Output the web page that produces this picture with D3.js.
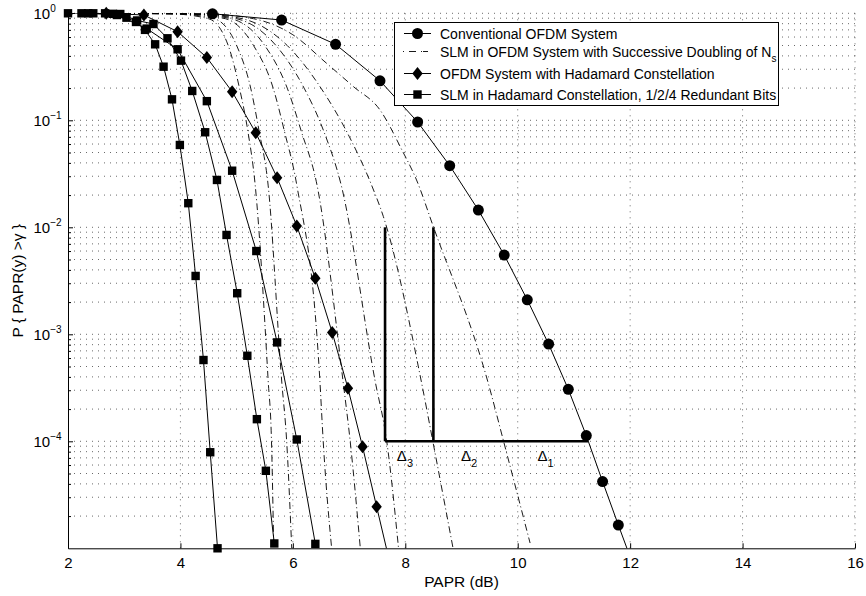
<!DOCTYPE html>
<html>
<head>
<meta charset="utf-8">
<script src="https://cdn.jsdelivr.net/npm/d3@7"></script>
<style>
  body { margin: 0; background: #fff; }
  svg { display: block; font-family: "Liberation Sans", Arial, Helvetica, sans-serif; }
</style>
</head>
<body>
<div id="chart"></div>
<script>
// ---- data (PAPR in dB, probability) ----
var convPapr = [4.57, 5.80, 6.76, 7.55, 8.22, 8.79, 9.30, 9.76, 10.17, 10.55, 10.90, 11.22, 11.51, 11.79, 12.07];
var convProb = [0.99, 0.865, 0.513, 0.234, 0.0964, 0.0377, 0.0145, 5.5e-3, 2.1e-3, 8.1e-4, 3.06e-4, 1.13e-4, 4.2e-5, 1.65e-5, 6.6e-6];

var hadPapr = [2.68, 3.35, 3.95, 4.47, 4.92, 5.34, 5.72, 6.07, 6.40, 6.70, 6.98, 7.24, 7.49, 7.74];
var hadProb = [1, 0.964, 0.673, 0.386, 0.185, 0.0766, 0.0291, 0.0103, 3.34e-3, 1.04e-3, 3.13e-4, 8.9e-5, 2.45e-5, 6.8e-6];

// SLM in Hadamard constellation, three redundancy levels
var slmHadAPapr = [2.00, 2.45, 2.80, 3.04, 3.21, 3.37, 3.55, 3.70, 3.85, 3.99, 4.14, 4.27, 4.41, 4.53, 4.66];
var slmHadAProb = [1, 1, 0.989, 0.91, 0.83, 0.70, 0.513, 0.317, 0.157, 0.0588, 0.0168, 3.51e-3, 5.75e-4, 7.9e-5, 1.0e-5];
var slmHadBPapr = [2.24, 2.66, 2.93, 3.23, 3.52, 3.77, 4.01, 4.21, 4.44, 4.65, 4.82, 5.01, 5.19, 5.36, 5.52, 5.67];
var slmHadBProb = [1, 1, 0.985, 0.857, 0.794, 0.584, 0.361, 0.188, 0.0773, 0.0277, 8.48e-3, 2.42e-3, 6.3e-4, 1.61e-4, 5.3e-5, 1.11e-5];
var slmHadCPapr = [2.36, 2.87, 3.40, 3.95, 4.47, 4.92, 5.35, 5.72, 6.07, 6.40];
var slmHadCProb = [1, 0.964, 0.72, 0.461, 0.151, 0.0338, 6.0e-3, 8.4e-4, 1.04e-4, 1.1e-5];

// SLM in conventional OFDM, successive doubling of Ns (right to left)
var slmPapr = [
  [2, 4.4, 5.3, 6.0, 6.60, 7.08, 7.55, 7.94, 8.20, 8.50, 9.46, 9.78, 10.22],
  [2, 4.3, 5.1, 5.9, 6.5, 7.0, 7.40, 7.61, 8.28, 8.49, 8.85],
  [2, 4.2, 5.0, 5.7, 6.2, 6.55, 6.86, 7.46, 7.67, 7.88],
  [2, 4.1, 4.9, 5.5, 5.9, 6.15, 6.43, 6.89, 7.02, 7.20],
  [2, 4.0, 4.8, 5.3, 5.65, 5.85, 6.07, 6.48, 6.54, 6.69],
  [2, 3.9, 4.6, 5.0, 5.25, 5.4, 5.56, 5.80, 5.89, 5.98],
  [2, 3.8, 4.5, 4.85, 5.05, 5.2, 5.33, 5.56, 5.62, 5.66]
];
var slmProb = [
  [1, 0.99, 0.89, 0.63, 0.341, 0.206, 0.125, 0.0528, 0.0277, 0.0101, 3.74e-4, 8.65e-5, 1.12e-5],
  [1, 0.99, 0.89, 0.5, 0.2, 0.071, 0.0248, 0.0126, 3.74e-4, 1.0e-4, 1.0e-5],
  [1, 0.99, 0.89, 0.5, 0.2, 0.079, 0.0248, 3.74e-4, 1.0e-4, 1.0e-5],
  [1, 0.99, 0.89, 0.5, 0.2, 0.079, 0.0248, 3.74e-4, 1.0e-4, 1.0e-5],
  [1, 0.99, 0.89, 0.5, 0.2, 0.079, 0.0248, 3.74e-4, 1.0e-4, 1.0e-5],
  [1, 0.99, 0.89, 0.5, 0.2, 0.079, 0.0248, 3.74e-4, 1.0e-4, 1.0e-5],
  [1, 0.99, 0.89, 0.5, 0.2, 0.079, 0.0248, 3.74e-4, 1.0e-4, 1.0e-5]
];

var xTicks = [2, 4, 6, 8, 10, 12, 14, 16];
var yExponents = [0, -1, -2, -3, -4];

var legendLabels = [
  "Conventional OFDM System",
  "SLM in OFDM System with Successive Doubling of N",
  "OFDM System with Hadamard Constellation",
  "SLM in Hadamard Constellation, 1/2/4 Redundant Bits"
];

// gain markers: verticals at two SLM curves, horizontal at 1e-4 out to the conventional curve
var gainX = [7.64, 8.5], gainTop = 1e-2, gainLevel = 1e-4, gainEnd = 11.25;
var deltaLabels = [{ x: 7.85, sub: "3" }, { x: 8.99, sub: "2" }, { x: 10.35, sub: "1" }];

// ---- drawing ----
var width = 866, height = 596,
    plotLeft = 68, plotRight = 855, plotTop = 13.3, plotBottom = 548.3;

var svg = d3.select("#chart").append("svg")
  .attr("width", width)
  .attr("height", height);

var x = d3.scaleLinear().domain([2, 16]).range([plotLeft, plotRight]);
var y = d3.scaleLog().domain([1e-5, 1]).range([plotBottom, plotTop]);

svg.append("clipPath").attr("id", "plot-clip")
  .append("rect")
  .attr("x", plotLeft).attr("y", plotTop)
  .attr("width", plotRight - plotLeft).attr("height", plotBottom - plotTop);

// grid
var minorVals = [];
for (var e = -5; e < 0; e++) {
  for (var m = 1; m < 10; m++) minorVals.push(m * Math.pow(10, e));
}
minorVals.push(1);

var grid = svg.append("g").attr("class", "grid")
  .style("stroke", "#444")
  .style("stroke-width", 0.8)
  .style("stroke-dasharray", "1,5");

grid.selectAll(".hgrid")
  .data(minorVals.slice(1))
  .enter().append("line")
  .attr("x1", plotLeft).attr("x2", plotRight)
  .attr("y1", (d) => y(d)).attr("y2", (d) => y(d));

grid.selectAll(".vgrid")
  .data(xTicks.slice(1))
  .enter().append("line")
  .attr("x1", (d) => x(d)).attr("x2", (d) => x(d))
  .attr("y1", plotTop).attr("y2", plotBottom);

// axes
var xAxis = d3.axisBottom(x).tickValues(xTicks).tickSizeInner(-5).tickSizeOuter(0).tickPadding(9);
var gx = svg.append("g")
  .attr("transform", `translate(0,${plotBottom})`)
  .call(xAxis);
gx.selectAll("text").style("font-size", "15px").attr("fill", "#000");

var yAxis = d3.axisLeft(y).tickValues(yExponents.map((d) => Math.pow(10, d)))
  .tickSizeInner(-5).tickSizeOuter(0).tickFormat("");
svg.append("g")
  .attr("transform", `translate(${plotLeft},0)`)
  .call(yAxis);

var yMinor = d3.axisLeft(y).tickValues(minorVals.filter((d) => Math.abs(Math.log10(d) % 1) > 1e-6))
  .tickSizeInner(-3).tickSizeOuter(0).tickFormat("");
svg.append("g")
  .attr("transform", `translate(${plotLeft},0)`)
  .call(yMinor)
  .select(".domain").remove();

svg.selectAll(".domain, .tick line").attr("stroke", "#000");

var yLabels = svg.append("g").style("font-size", "15px");
yExponents.forEach((ex) => {
  var t = yLabels.append("text")
    .attr("x", 33.5)
    .attr("y", y(Math.pow(10, ex)) + 5.5);
  t.append("tspan").text("10");
  t.append("tspan").attr("dy", -7).style("font-size", "10px")
    .text(ex === 0 ? "0" : "\u2212" + Math.abs(ex));
});

svg.append("text")
  .attr("x", x(9))
  .attr("y", 587)
  .attr("text-anchor", "middle")
  .style("font-size", "15.5px")
  .text("PAPR (dB)");

svg.append("text")
  .attr("transform", `translate(23,${(plotTop + plotBottom) / 2}) rotate(-90)`)
  .attr("text-anchor", "middle")
  .style("font-size", "15.5px")
  .text("P { PAPR(y) >\u03b3 }");

// curves
var plot = svg.append("g").attr("clip-path", "url(#plot-clip)");

var line = d3.line()
  .x((d) => x(d[0]))
  .y((d) => y(d[1]));

var smooth = d3.line()
  .x((d) => x(d[0]))
  .y((d) => y(d[1]))
  .curve(d3.curveMonotoneX);

slmPapr.forEach((px, i) => {
  plot.append("path")
    .datum(d3.zip(px, slmProb[i]))
    .attr("d", smooth)
    .attr("fill", "none")
    .attr("stroke", "#000")
    .attr("stroke-width", 0.9)
    .attr("stroke-dasharray", "7,3,1,3");
});

var markerSeries = [
  { papr: convPapr, prob: convProb, shape: "circle" },
  { papr: hadPapr, prob: hadProb, shape: "diamond" },
  { papr: slmHadAPapr, prob: slmHadAProb, shape: "square" },
  { papr: slmHadBPapr, prob: slmHadBProb, shape: "square" },
  { papr: slmHadCPapr, prob: slmHadCProb, shape: "square" }
];

function drawMarker(g, shape, cx, cy) {
  if (shape === "circle") {
    g.append("circle").attr("cx", cx).attr("cy", cy).attr("r", 5.5);
  } else if (shape === "diamond") {
    g.append("path").attr("d", `M${cx},${cy - 6.5}L${cx + 5.2},${cy}L${cx},${cy + 6.5}L${cx - 5.2},${cy}Z`);
  } else {
    g.append("rect").attr("x", cx - 4.2).attr("y", cy - 4.2).attr("width", 8.4).attr("height", 8.4);
  }
}

markerSeries.forEach((s) => {
  var pts = d3.zip(s.papr, s.prob);
  plot.append("path")
    .datum(pts)
    .attr("d", line)
    .attr("fill", "none")
    .attr("stroke", "#000")
    .attr("stroke-width", 1);
  var mg = svg.append("g").attr("fill", "#000");
  pts.filter((d) => d[1] >= 1e-5 * 0.999).forEach((d) => {
    drawMarker(mg, s.shape, x(d[0]), y(d[1]));
  });
});

// gain annotation
var ann = svg.append("g").attr("stroke", "#000").attr("stroke-width", 2.6).attr("fill", "none");
gainX.forEach((gx0) => {
  ann.append("line")
    .attr("x1", x(gx0)).attr("x2", x(gx0))
    .attr("y1", y(gainTop)).attr("y2", y(gainLevel));
});
ann.append("line")
  .attr("x1", x(gainX[0])).attr("x2", x(gainEnd))
  .attr("y1", y(gainLevel)).attr("y2", y(gainLevel));

deltaLabels.forEach((d) => {
  var t = svg.append("text")
    .attr("x", x(d.x))
    .attr("y", y(gainLevel) + 20)
    .style("font-size", "15px");
  t.append("tspan").text("\u0394");
  t.append("tspan").attr("dy", 6).style("font-size", "11px").text(d.sub);
});

// legend
var lg = svg.append("g");
lg.append("rect")
  .attr("x", 394.5).attr("y", 22.5)
  .attr("width", 384).attr("height", 83)
  .attr("fill", "#fff").attr("stroke", "#000").attr("stroke-width", 1);

var rowY = [33.5, 51.5, 73.5, 94.5];
var rowShape = ["circle", "dash", "diamond", "square"];
legendLabels.forEach((lab, i) => {
  var ly = rowY[i];
  if (rowShape[i] === "dash") {
    lg.append("line")
      .attr("x1", 403).attr("x2", 432).attr("y1", ly).attr("y2", ly)
      .attr("stroke", "#000").attr("stroke-width", 0.9)
      .attr("stroke-dasharray", "1,5,7,5,1");
  } else {
    lg.append("line")
      .attr("x1", 404).attr("x2", 431).attr("y1", ly).attr("y2", ly)
      .attr("stroke", "#000").attr("stroke-width", 1);
    var mg = lg.append("g").attr("fill", "#000");
    drawMarker(mg, rowShape[i], 417.5, ly);
  }
  var t = lg.append("text")
    .attr("x", 440)
    .attr("y", ly + 5)
    .style("font-size", "14px")
    .text(lab);
  if (i === 1) {
    t.append("tspan").attr("dy", 5).style("font-size", "10px").text("s");
  }
});
</script>
</body>
</html>
